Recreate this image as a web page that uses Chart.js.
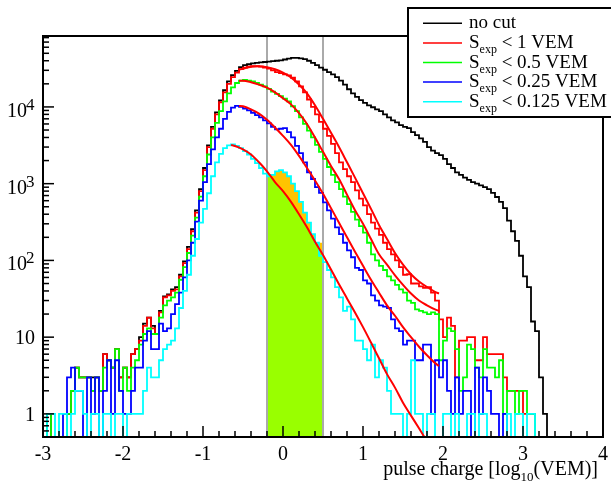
<!DOCTYPE html>
<html><head><meta charset="utf-8">
<script src="https://cdn.jsdelivr.net/npm/chart.js@4.4.1/dist/chart.umd.min.js"></script>
<style>html,body{margin:0;padding:0;background:#fff;overflow:hidden}canvas{display:block}</style>
</head><body>
<canvas id="c" width="611" height="484"></canvas>
<script>
// ---- binning (categories): 140 bins of 0.05 in log10(VEM) from -3 to 4
const BIN_START = -3, BIN_WIDTH = 0.05, N_BINS = 140;
const CUT_LO = -0.2, CUT_HI = 0.5;

// ---- histogram contents (counts per bin)
const noCut = [
0,0,1,0,0,0,0,1,2,4,
3,3,3,3,3,2,6,5,4,7,
3,4,3,6,7,10,15,18,14,11,
22,34,36,42,45,65,97,150,255,450,
850,1600,3150,5500,8500,12200,16500,21500,26000,29500,
33000,35000,36000,37000,37500,38000,38500,39000,39500,40000,
40500,41500,42500,43500,43500,43000,42000,40000,37500,35000,
32500,30500,28500,26500,24500,22000,19500,17000,15000,13500,
12300,11300,10500,9900,9300,8800,8000,7300,6700,6300,
5800,5500,5300,4700,4300,3900,3500,3000,2700,2500,
2350,2100,1800,1600,1400,1300,1200,1120,1050,1000,
950,900,850,760,670,580,480,330,240,180,
115,62,45,16,12,3,1,0,0,0,
0,0,0,0,0,0,0,0,0,0];
const sExpLt1 = [
0,0,1,0,0,0,0,1,2,4,
3,3,3,2,3,2,6,5,4,7,
3,4,3,6,7,9,14,18,13,11,
21,33,35,40,42,62,92,140,240,420,
800,1500,3000,5200,8000,11500,15500,20000,24500,28000,
31000,32500,33500,34000,34000,33500,32500,31500,30000,28500,
27500,26500,25800,24000,21500,18500,15500,12500,10000,8000,
6400,5200,4200,3300,2500,1900,1550,1250,1050,820,
640,520,400,310,260,215,170,140,120,100,
82,65,66,50,50,46,44,45,38,30,
17,10,18,14,3,9,9,10,10,5,
5,10,6,6,6,6,3,2,2,2,
2,1,1,1,0,0,0,0,0,0,
0,0,0,0,0,0,0,0,0,0];
const sExpLt05 = [
0,0,1,0,0,0,0,1,2,4,
3,3,3,2,3,2,4,5,4,7,
2,4,2,4,5,8,11,13,11,11,
18,26,30,33,38,56,82,125,210,360,
680,1250,2400,4000,6200,8800,11800,15000,18000,20500,
22000,22500,22000,21500,20500,19500,18500,17200,15800,14800,
13800,12800,11800,10200,8800,7300,6000,4900,4000,3200,
2600,2100,1650,1300,1050,850,680,540,430,340,
280,230,170,120,100,85,75,62,55,48,
42,38,30,28,23,22,21,20,21,20,
5,9,13,12,7,2,3,8,7,4,
3,7,4,4,3,5,1,2,2,1,
2,2,1,1,0,0,0,0,0,0,
0,0,0,0,0,0,0,0,0,0];
const sExpLt025 = [
0,0,0,0,0,0,1,3,4,2,
2,0,3,1,3,0,2,5,1,5,
2,1,1,2,4,4,9,12,7,7,
15,12,13,20,27,38,60,100,170,320,
600,1050,1800,2800,4000,5200,7000,8600,9800,10300,
10000,9500,9000,8400,7800,7300,6700,6100,5500,5100,
5200,5300,4700,4000,3100,2500,1900,1400,1150,900,
760,570,450,350,270,220,170,135,110,80,
75,55,50,35,30,26,25,24,17,13,
12,8,9,9,5,5,8,8,1,5,
3,5,2,1,3,1,2,2,0,4,
1,3,2,1,1,0,1,0,0,0,
0,0,0,0,0,0,0,0,0,0,
0,0,0,0,0,0,0,0,0,0];
const sExpLt0125 = [
0,0,1,1,0,1,1,0,1,2,
2,1,0,1,1,0,1,1,0,1,
1,0,1,1,1,1,2,4,3,3,
5,7,8,9,13,24,40,65,115,190,
310,470,750,1250,1900,2450,2900,3150,3250,3100,
2900,2650,2400,2100,1850,1600,1350,1250,1300,1450,
1500,1400,1250,1000,800,580,420,310,220,170,
115,95,75,60,45,33,22,25,17,9,
9,7,5,8,3,5,4,2,1,1,
1,0,1,5,1,1,0,1,1,0,
0,1,1,0,1,0,0,1,1,0,
1,1,0,0,0,0,0,1,0,1,
1,0,1,1,0,0,0,0,0,0,
0,0,0,0,0,0,0,0,0,0];

// ---- fitted curves
const fitLt1X = [-0.55,-0.5,-0.4,-0.3,-0.2,-0.1,0,0.1,0.2,0.3,0.4,0.5,0.6,0.7,0.8,0.9,1.0,1.1,1.2,1.3,1.4,1.5,1.6,1.7,1.8,1.9,1.95];
const fitLt1Y = [30500,31500,33500,34000,33000,31000,28000,24300,19600,15000,10500,7000,4600,3000,1900,1200,750,470,290,190,125,88,66,53,45,39,37];
const fitLt05X = [-0.55,-0.5,-0.4,-0.3,-0.2,-0.1,0,0.1,0.2,0.3,0.4,0.5,0.6,0.7,0.8,0.9,1.0,1.1,1.2,1.3,1.4,1.5,1.6,1.7,1.8,1.9,1.95];
const fitLt05Y = [22000,22000,21000,19500,17800,15500,13000,10800,8300,6000,4000,2600,1700,1150,720,450,300,190,120,88,64,48,37,30,26,23,22];
const fitLt025X = [-0.55,-0.5,-0.4,-0.3,-0.2,-0.1,0,0.1,0.2,0.3,0.4,0.5,0.6,0.7,0.8,0.9,1.0,1.1,1.2,1.3,1.4,1.5,1.6,1.7,1.8,1.9,1.95];
const fitLt025Y = [10300,10200,9300,8200,6800,5400,4200,3200,2300,1600,1100,740,480,310,200,130,85,56,38,26,19,13.5,10,7.5,5.8,4.6,4.2];
const fitLt0125X = [-0.65,-0.6,-0.5,-0.4,-0.3,-0.2,-0.1,0,0.1,0.2,0.3,0.4,0.5,0.6,0.7,0.8,0.9,1.0,1.1,1.2,1.3,1.4,1.5,1.6,1.7,1.8];
const fitLt0125Y = [3200,3100,2800,2400,1900,1450,1050,800,580,400,270,175,118,76,49,32,21,13.5,8.5,5.3,3.3,2.2,1.4,0.95,0.65,0.44];

// ---- axes / labels
const X_MIN = -3, X_MAX = 4, Y_MIN = 0.5, Y_MAX = 84000;
const xTickLabels = ['-3','-2','-1','0','1','2','3','4'];
const yDecadeExp = [0,1,2,3,4];
const legendNames = [
  [{t:'no cut'}],
  [{t:'S'},{t:'exp',sub:true},{t:' < 1 VEM'}],
  [{t:'S'},{t:'exp',sub:true},{t:' < 0.5 VEM'}],
  [{t:'S'},{t:'exp',sub:true},{t:' < 0.25 VEM'}],
  [{t:'S'},{t:'exp',sub:true},{t:' < 0.125 VEM'}]
];
const colors = ['#000000','#ff0000','#00ff00','#0000ff','#00ffff'];

const ZERO_Y = 0.1; // empty bins drawn down below the frame, as ROOT does
function histPoints(vals, from, to){
  const pts = [];
  for (let i = from; i < to; i++) pts.push({x: BIN_START + i*BIN_WIDTH, y: vals[i] > 0 ? vals[i] : ZERO_Y});
  pts.push({x: BIN_START + to*BIN_WIDTH, y: vals[to-1] > 0 ? vals[to-1] : ZERO_Y});
  return pts;
}
function curvePoints(xs, ys, lo, hi){
  const pts = [];
  xs.forEach((x,k)=>{ if (lo===undefined || (x >= lo-1e-9 && x <= hi+1e-9)) pts.push({x, y: ys[k]}); });
  return pts;
}
const binIdx = x => Math.round((x - BIN_START)/BIN_WIDTH);

function histDS(vals, color, order){
  return {data: histPoints(vals, 0, N_BINS), borderColor: color, borderWidth: 1.8, stepped: 'after',
          pointRadius: 0, fill: false, order, clip: 0, borderJoinStyle: 'miter'};
}
function fitDS(xs, ys){
  return {data: curvePoints(xs, ys), borderColor: '#ff0000', borderWidth: 2, cubicInterpolationMode: 'monotone',
          pointRadius: 0, fill: false, order: 1, clip: 0};
}

const datasets = [
  histDS(noCut, colors[0], 6),
  histDS(sExpLt1, colors[1], 5),
  histDS(sExpLt05, colors[2], 4),
  histDS(sExpLt025, colors[3], 3),
  histDS(sExpLt0125, colors[4], 2),
  fitDS(fitLt1X, fitLt1Y),
  fitDS(fitLt05X, fitLt05Y),
  fitDS(fitLt025X, fitLt025Y),
  fitDS(fitLt0125X, fitLt0125Y),
  {data: [{x: CUT_LO, y: Y_MIN}, {x: CUT_LO, y: Y_MAX}], borderColor: '#aaaaaa', borderWidth: 2, pointRadius: 0, order: 7, clip: 0},
  {data: [{x: CUT_HI, y: Y_MIN}, {x: CUT_HI, y: Y_MAX}], borderColor: '#aaaaaa', borderWidth: 2, pointRadius: 0, order: 7, clip: 0},
  {data: curvePoints(fitLt0125X, fitLt0125Y, CUT_LO, CUT_HI), borderWidth: 0, borderColor: 'rgba(0,0,0,0)',
   backgroundColor: '#99ff00', fill: 'start', cubicInterpolationMode: 'monotone', pointRadius: 0, order: 8, clip: 0},
  {data: histPoints(sExpLt0125, binIdx(CUT_LO), binIdx(CUT_HI)), borderWidth: 0, borderColor: 'rgba(0,0,0,0)',
   backgroundColor: '#ffc400', fill: 'start', stepped: 'after', pointRadius: 0, order: 9, clip: 0}
];

const SERIF = '"Liberation Serif", "Times New Roman", serif';
function richText(ctx, parts, x, y, size, align){
  const subSize = Math.round(size*0.65);
  let w = 0;
  parts.forEach(p => { ctx.font = (p.sub ? subSize : size) + 'px ' + SERIF; p.w = ctx.measureText(p.t).width; w += p.w; });
  let cx = align === 'right' ? x - w : x;
  parts.forEach(p => {
    ctx.font = (p.sub ? subSize : size) + 'px ' + SERIF;
    ctx.textAlign = 'left'; ctx.textBaseline = 'alphabetic';
    ctx.fillText(p.t, cx, y + (p.sub ? size*0.28 : (p.sup ? -size*0.38 : 0)));
    cx += p.w;
  });
}

const decor = {
  id: 'decor',
  afterDraw(chart){
    const ctx = chart.ctx, xs = chart.scales.x, ys = chart.scales.y, a = chart.chartArea;
    ctx.save();
    ctx.fillStyle = '#000'; ctx.strokeStyle = '#000';
    // ticks
    ctx.lineWidth = 1.5;
    for (let k = 0; k <= 35; k++){
      const t = X_MIN + k*0.2; const px = xs.getPixelForValue(t);
      const major = k % 5 === 0;
      ctx.beginPath(); ctx.moveTo(px, a.bottom); ctx.lineTo(px, a.bottom - (major ? 11 : 6)); ctx.stroke();
    }
    for (let d = -1; d <= 4; d++){
      for (let m = 1; m <= 9; m++){
        const v = m*Math.pow(10,d);
        if (v < Y_MIN - 1e-9 || v > Y_MAX) continue;
        const py = ys.getPixelForValue(v);
        ctx.beginPath(); ctx.moveTo(a.left, py); ctx.lineTo(a.left + (m===1 ? 11 : 6), py); ctx.stroke();
      }
    }
    // frame
    ctx.lineWidth = 2;
    ctx.strokeRect(a.left, a.top, a.right - a.left, a.bottom - a.top);
    // x tick labels
    ctx.font = '20px ' + SERIF; ctx.textAlign = 'center'; ctx.textBaseline = 'alphabetic';
    xTickLabels.forEach((lab, k) => { ctx.fillText(lab, xs.getPixelForValue(X_MIN + k), 460); });
    // y tick labels
    yDecadeExp.forEach(e => {
      const py = ys.getPixelForValue(Math.pow(10, e));
      if (e === 0) richText(ctx, [{t:'1'}], 35, py + 7, 20, 'right');
      else if (e === 1) richText(ctx, [{t:'10'}], 35, py + 7, 20, 'right');
      else {
        ctx.font = '20px ' + SERIF; ctx.textAlign = 'right'; ctx.textBaseline = 'alphabetic';
        ctx.fillText('10', 27, py + 10);
        ctx.font = '17px ' + SERIF; ctx.textAlign = 'left';
        ctx.fillText(String(e), 26, py + 3);
      }
    });
    // axis title
    richText(ctx, [{t:'pulse charge [log'},{t:'10',sub:true},{t:'(VEM)]'}], 598, 475, 20, 'right');
    // legend
    ctx.fillStyle = '#fff';
    ctx.fillRect(408, 8, 205, 109);
    ctx.lineWidth = 2; ctx.strokeStyle = '#000';
    ctx.strokeRect(408, 8, 205, 109);
    legendNames.forEach((parts, k) => {
      const ly = 23.3 + k*19.6;
      ctx.strokeStyle = colors[k]; ctx.lineWidth = 1.5;
      ctx.beginPath(); ctx.moveTo(423, ly); ctx.lineTo(462, ly); ctx.stroke();
      ctx.fillStyle = '#000';
      richText(ctx, parts, 469, ly + 5, 19, 'left');
    });
    ctx.restore();
  }
};

new Chart(document.getElementById('c'), {
  type: 'line',
  data: {datasets},
  options: {
    responsive: false, animation: false, devicePixelRatio: 1,
    layout: {padding: {left: 43, right: 8, top: 36, bottom: 47}},
    plugins: {legend: {display: false}, tooltip: {enabled: false}},
    elements: {line: {tension: 0}},
    scales: {
      x: {type: 'linear', min: X_MIN, max: X_MAX, display: false},
      y: {type: 'logarithmic', min: Y_MIN, max: Y_MAX, display: false}
    }
  },
  plugins: [decor]
});
</script>
</body></html>
